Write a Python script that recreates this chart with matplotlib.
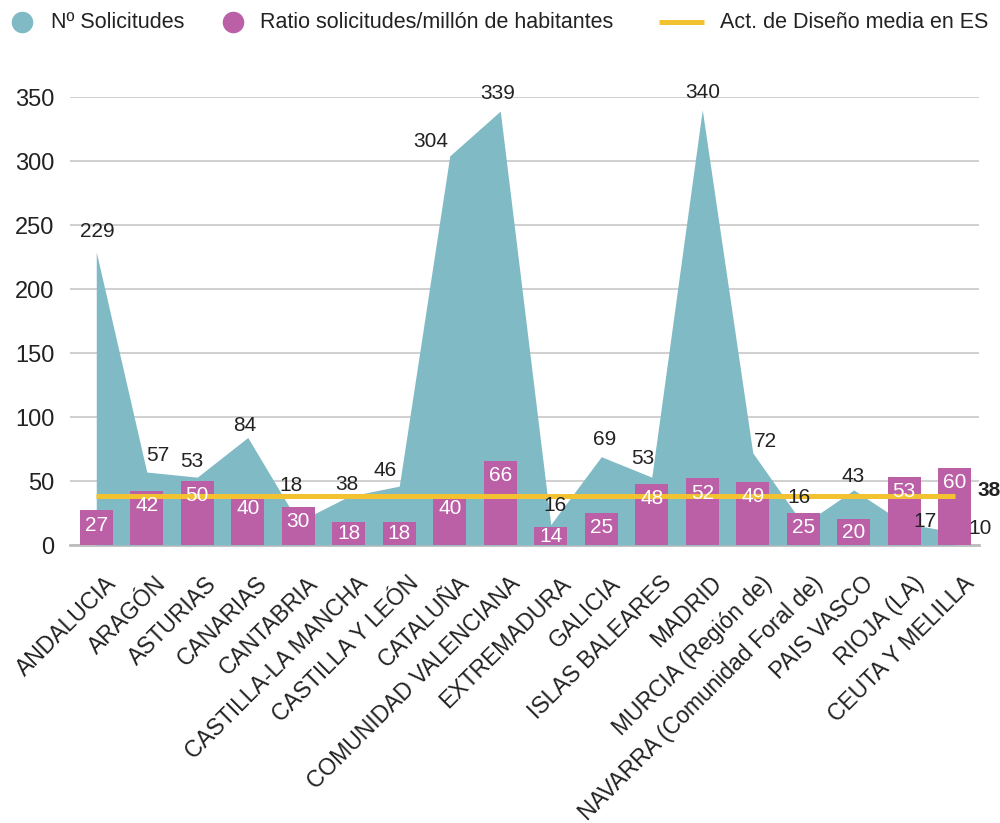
import matplotlib

matplotlib.use("Agg")
import matplotlib.pyplot as plt
from matplotlib.lines import Line2D
from matplotlib.transforms import ScaledTranslation

plt.rcParams["font.family"] = ["Liberation Sans", "DejaVu Sans"]

comunidades = [
    "ANDALUCIA", "ARAGÓN", "ASTURIAS", "CANARIAS", "CANTABRIA",
    "CASTILLA-LA MANCHA", "CASTILLA Y LEÓN", "CATALUÑA", "COMUNIDAD VALENCIANA",
    "EXTREMADURA", "GALICIA", "ISLAS BALEARES", "MADRID", "MURCIA (Región de)",
    "NAVARRA (Comunidad Foral de)", "PAIS VASCO", "RIOJA (LA)", "CEUTA Y MELILLA",
]
solicitudes = [229, 57, 53, 84, 18, 38, 46, 304, 339, 16, 69, 53, 340, 72, 16, 43, 17, 10]
ratio_millon = [27, 42, 50, 40, 30, 18, 18, 40, 66, 14, 25, 48, 52, 49, 25, 20, 53, 60]
media_es = 38

# desplazamiento (px) de cada etiqueta de solicitudes respecto a su vértice
label_offsets = [
    (1, 20), (11, 17), (-5, 16), (-3, 12), (-7, 36), (-2, 12), (-14, 16),
    (-19, 14), (-3, 18), (4, 19), (3, 17), (-9, 19), (0, 17), (13, 11),
    (-4, 27), (-1, 13), (21, 2), (25, 4),
]

TEAL = "#80bac5"
MAGENTA = "#bb5fa6"
YELLOW = "#f2c230"
GRID = "#c8c8c8"
INK = "#222222"

fig = plt.figure(figsize=(10, 8.23), dpi=100)
ax = fig.add_axes([0.07, 1 - 545 / 823, 0.909, 448 / 823])

x = list(range(len(comunidades)))

ax.fill_between(x, solicitudes, 0, color=TEAL, lw=0, zorder=2)
ax.bar(x, ratio_millon, width=0.66, color=MAGENTA, zorder=3)
ax.plot([x[0], x[-1]], [media_es, media_es], color=YELLOW, lw=3.6, zorder=4,
        solid_capstyle="butt")

for xi, v, (dx, dy) in zip(x, solicitudes, label_offsets):
    ax.annotate(str(v), (xi, v), xytext=(dx, dy), textcoords="offset pixels",
                ha="center", va="center", fontsize=15, color=INK,
                zorder=6, annotation_clip=False)

for xi, v in zip(x, ratio_millon):
    ax.text(xi, max(v - 11.5, v / 2), str(v), ha="center", va="center",
            fontsize=15, color="white", zorder=6)

ax.annotate(str(media_es), (x[-1], media_es), xytext=(23, 6),
            textcoords="offset pixels", ha="left", va="center",
            fontsize=15, fontweight="bold", color=INK,
            annotation_clip=False)

ax.set_xlim(-0.52, 17.48)
ax.set_ylim(0, 350)
ax.set_yticks(range(0, 351, 50))
ax.tick_params(axis="y", length=0, pad=11, labelsize=17, labelcolor=INK)
ax.yaxis.grid(True, color=GRID, lw=1.2, zorder=0)
ax.set_axisbelow(True)
for side in ["top", "right", "left"]:
    ax.spines[side].set_visible(False)
ax.spines["bottom"].set_color("#bdbdbd")
ax.spines["bottom"].set_linewidth(2)
ax.spines["bottom"].set_zorder(1)

ax.set_xticks(x)
ax.set_xticklabels(comunidades, rotation=45, ha="right", va="top",
                   rotation_mode="anchor", fontsize=16.5, color=INK)
ax.tick_params(axis="x", length=0, pad=0)
shift = ScaledTranslation(8 / 100, -27 / 100, fig.dpi_scale_trans)
for lbl in ax.get_xticklabels():
    lbl.set_transform(lbl.get_transform() + shift)

# leyenda superior, colocada en coordenadas de figura
W, H = 1000, 823
ly = 1 - 22 / H
fig.add_artist(Line2D([22 / W], [ly], marker="o", ms=14.5, color=TEAL, ls="none"))
fig.text(51 / W, ly, "Nº Solicitudes", fontsize=15.5, color=INK, va="center")
fig.add_artist(Line2D([233 / W], [ly], marker="o", ms=14.5, color=MAGENTA, ls="none"))
fig.text(260 / W, ly, "Ratio solicitudes/millón de habitantes", fontsize=15.5,
         color=INK, va="center")
fig.add_artist(Line2D([659 / W, 704 / W], [ly, ly], color=YELLOW, lw=3.6,
                      solid_capstyle="butt"))
fig.text(720 / W, ly, "Act. de Diseño media en ES", fontsize=15.5, color=INK,
         va="center")

fig.savefig("out.png", dpi=100)
